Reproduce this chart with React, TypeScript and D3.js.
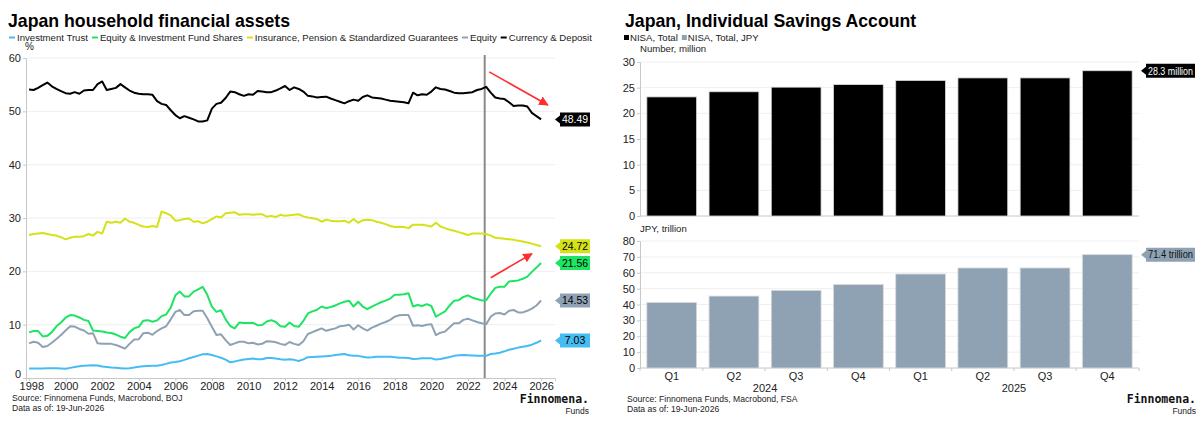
import React, { useRef, useEffect } from 'react';
import * as d3 from 'd3';

const FONT = "'Liberation Sans', Arial, sans-serif";

// Quarterly observations, 1997 Q4 .. 2025 Q4 (share of household financial assets, %)
const investmentTrust = [
  1.8, 1.8, 1.8, 1.8, 1.85, 1.85, 1.85, 1.8, 1.75, 1.9,
  2.05, 2.2, 2.3, 2.35, 2.4, 2.35, 2.15, 2.05, 1.95, 1.9,
  1.85, 1.8, 1.85, 1.95, 2.1, 2.2, 2.25, 2.3, 2.3, 2.45,
  2.65, 2.9, 3.0, 3.15, 3.4, 3.7, 3.95, 4.2, 4.45, 4.5,
  4.3, 4.05, 3.8, 3.45, 2.95, 3.1, 3.3, 3.45, 3.55, 3.65,
  3.5, 3.5, 3.75, 3.75, 3.65, 3.5, 3.4, 3.5, 3.4, 3.2,
  3.5, 3.9, 3.95, 4.0, 4.05, 4.1, 4.15, 4.3, 4.4, 4.5,
  4.25, 4.15, 4.15, 4.0, 3.85, 3.9, 4.0, 4.0, 4.0, 4.0,
  3.9, 3.8, 3.8, 3.75, 3.55, 3.6, 3.7, 3.7, 3.7, 3.45,
  3.55, 3.75, 3.95, 4.15, 4.25, 4.3, 4.25, 4.2, 4.15, 4.15,
  4.15, 4.5, 4.6, 4.75, 5.0, 5.3, 5.5, 5.7, 5.85, 6.0,
  6.25, 6.6, 7.03
];

const equityFundShares = [
  8.55, 8.8, 8.8, 7.8, 7.9, 8.6, 9.7, 10.4, 11.3, 11.8,
  11.7, 11.35, 10.9, 10.7, 8.9, 8.8, 8.7, 8.55, 8.45, 8.15,
  7.75, 7.5, 8.6, 9.3, 9.6, 10.75, 10.85, 10.55, 10.8, 11.6,
  11.9, 13.2, 15.5, 16.2, 15.3, 15.3, 16.2, 16.6, 17.1, 15.6,
  13.4, 12.4, 12.7, 11.0, 9.75, 9.3, 10.4, 10.3, 10.3, 10.35,
  9.9, 9.95, 10.6, 10.85, 10.5, 9.7, 9.6, 10.4, 9.75, 9.6,
  10.7, 12.1, 12.5, 12.8, 13.4, 13.1, 13.3, 13.6, 14.0, 14.3,
  14.5, 13.4, 14.3, 13.4, 12.9, 13.4, 13.8, 14.2, 14.5, 14.9,
  15.6, 15.6, 15.7, 15.9, 13.4, 13.7, 13.5, 13.85, 13.5, 11.5,
  12.0, 12.5, 13.6, 14.5, 14.6, 15.2, 15.5, 15.05, 14.8, 14.55,
  14.6, 15.8, 16.9, 17.1, 17.1, 18.1, 18.2, 18.3, 18.6, 19.0,
  19.9, 20.7, 21.56
];

const insurancePension = [
  26.8, 27.0, 27.1, 27.2, 27.0, 26.8, 26.7, 26.4, 26.0, 26.3,
  26.5, 26.5, 26.6, 27.0, 26.7, 27.4, 27.1, 29.3, 29.1, 29.3,
  29.1, 29.9, 29.3, 29.1, 28.7, 28.4, 28.3, 28.5, 28.3, 31.2,
  30.9, 30.5, 29.5, 29.6, 29.8, 29.9, 29.3, 29.4, 29.0, 29.3,
  29.8, 30.3, 30.1, 30.9, 31.0, 31.1, 30.6, 30.7, 30.7, 30.6,
  30.7, 30.7, 30.25, 30.4, 30.2, 30.6, 30.4, 30.5, 30.6, 30.7,
  30.3, 30.1, 29.95, 29.8, 29.3, 29.7, 29.5, 29.4, 29.4, 29.5,
  29.1, 29.8, 29.1, 29.6, 29.65, 29.6, 29.3, 29.1, 28.85, 28.5,
  28.3, 28.35, 28.3, 28.1, 28.75, 28.75, 28.75, 28.6, 28.4, 29.1,
  28.4, 28.1, 27.8, 27.6, 27.35, 27.1, 26.8, 27.1, 27.1, 27.1,
  27.0, 26.7, 26.3, 26.2, 26.1, 26.0, 25.9, 25.75, 25.6, 25.4,
  25.2, 24.95, 24.72
];

const equity = [
  6.5, 6.8, 6.6, 5.8, 6.0, 6.6, 7.3, 8.05, 8.9, 9.7,
  9.65, 9.2, 8.9, 8.3, 8.4, 6.5, 6.4, 6.4, 6.4, 6.2,
  5.85, 5.5, 6.4, 7.2, 7.25, 8.4, 8.5, 8.1, 8.8, 9.3,
  9.7, 11.0, 12.4, 12.75, 11.8, 11.8, 12.5, 12.6, 12.6, 11.2,
  9.6, 8.05, 8.2, 7.1, 6.2, 6.5, 6.8, 6.8, 6.5, 6.6,
  6.3, 6.4, 6.9, 6.85, 6.7, 6.4, 6.2, 6.75, 6.4, 6.2,
  6.9, 8.25, 8.6, 8.95, 9.3, 8.85, 9.1, 9.3, 9.7, 9.8,
  10.0, 9.1, 9.9, 9.3, 8.9, 9.45, 9.8, 10.2, 10.5, 10.9,
  11.5, 11.75, 11.8, 11.8, 9.8, 9.9, 9.75, 10.0, 10.1, 8.05,
  8.5, 8.7, 9.5, 10.25, 10.25, 10.9, 11.1, 10.8, 10.5, 10.25,
  10.1, 11.5, 12.1, 12.2, 11.9, 12.6, 12.75, 12.3, 12.3, 12.6,
  13.0, 13.6, 14.53
];

const currencyDeposit = [
  54.1, 54.0, 54.4, 54.9, 55.4, 54.7, 54.2, 53.8, 53.4, 53.3,
  53.6, 53.3, 53.9, 54.0, 54.0, 55.1, 55.6, 54.0, 54.2, 54.4,
  55.1, 54.5, 53.9, 53.5, 53.3, 53.2, 53.2, 53.1, 51.9, 51.4,
  51.2, 50.2, 49.3, 48.7, 49.1, 48.8, 48.5, 48.1, 48.1, 48.3,
  50.5, 51.4, 51.6, 52.5, 53.7, 53.6, 53.2, 52.9, 53.2, 53.1,
  53.8, 53.7, 53.6, 53.6, 53.9, 54.3, 54.75, 54.0, 54.5, 54.2,
  53.7, 52.9, 52.8, 52.6, 52.7, 52.75, 52.4, 52.1, 51.8, 51.5,
  51.9, 52.2, 52.0, 52.7, 53.0, 52.6, 52.5, 52.4, 52.2, 52.0,
  51.9, 51.8, 51.7, 51.5, 53.5, 53.0, 53.2, 53.1, 53.7, 54.5,
  54.2, 54.1, 53.8, 53.5, 53.4, 53.4, 53.5, 53.6, 54.0, 54.2,
  54.6, 53.5, 52.6, 52.4, 52.3, 51.7, 51.0, 51.1, 51.1, 50.9,
  49.7, 49.1, 48.49
];

const yTicksLeft = [0, 10, 20, 30, 40, 50, 60];

// NISA
const nisaQuarters = ['Q1', 'Q2', 'Q3', 'Q4', 'Q1', 'Q2', 'Q3', 'Q4'];
const nisaYears = ['2024', '2024', '2024', '2024', '2025', '2025', '2025', '2025'];
const nisaAccounts = [23.2, 24.2, 25.1, 25.6, 26.4, 26.9, 26.9, 28.3];
const nisaAmount = [41.3, 45.3, 48.9, 52.6, 59.2, 63.0, 63.0, 71.4];
const yTicksAccounts = [0, 5, 10, 15, 20, 25, 30];
const yTicksAmount = [0, 10, 20, 30, 40, 50, 60, 70, 80];

const App = () => {
  const ref = useRef(null);

  useEffect(() => {
    const node = ref.current;
    if (!node) return;
    d3.select(node).selectAll('*').remove();

    const svg = d3.select(node)
      .attr('width', 1200)
      .attr('height', 422)
      .style('font-family', FONT);

    svg.append('rect').attr('width', 1200).attr('height', 422).attr('fill', '#fff');

    // arrow head for annotations
    svg.append('defs').append('marker')
      .attr('id', 'redArrow')
      .attr('viewBox', '0 0 10 10')
      .attr('refX', 9).attr('refY', 5)
      .attr('markerWidth', 6).attr('markerHeight', 6)
      .attr('orient', 'auto')
      .append('path')
      .attr('d', 'M0,0 L10,5 L0,10 z')
      .attr('fill', '#ff2d2d');

    const drawTag = (g, x, y, w, label, fill, color, fs) => {
      const h = 14;
      g.append('path')
        .attr('d', `M${x - 5},${y} L${x},${y - 4} L${x},${y - h / 2} L${x + w},${y - h / 2} L${x + w},${y + h / 2} L${x},${y + h / 2} L${x},${y + 4} Z`)
        .attr('fill', fill);
      const t = g.append('text')
        .attr('x', x + w / 2)
        .attr('y', y + 3.8)
        .attr('text-anchor', 'middle')
        .attr('font-size', fs)
        .attr('fill', color)
        .text(label);
      if (t.node().getComputedTextLength() > w - 4) {
        t.attr('textLength', w - 4).attr('lengthAdjust', 'spacingAndGlyphs');
      }
    };

    // ================= LEFT CHART =================
    const left = svg.append('g');

    left.append('text')
      .attr('x', 8).attr('y', 27)
      .attr('font-size', 17.7).attr('font-weight', 'bold')
      .attr('fill', '#000')
      .text('Japan household financial assets');

    const series = [
      { name: 'Investment Trust', values: investmentTrust, color: '#45bcf2', text: '#000' },
      { name: 'Equity & Investment Fund Shares', values: equityFundShares, color: '#1ee463', text: '#000' },
      { name: 'Insurance, Pension & Standardized Guarantees', values: insurancePension, color: '#d5e21a', text: '#000' },
      { name: 'Equity', values: equity, color: '#8fa2b4', text: '#000' },
      { name: 'Currency & Deposit', values: currencyDeposit, color: '#000', text: '#fff' }
    ];

    // legend laid out from measured widths
    let lx = 9;
    series.forEach((s) => {
      left.append('line')
        .attr('x1', lx).attr('x2', lx + 6)
        .attr('y1', 37.5).attr('y2', 37.5)
        .attr('stroke', s.color).attr('stroke-width', 2);
      const t = left.append('text')
        .attr('x', lx + 8).attr('y', 41)
        .attr('font-size', 9.6)
        .attr('fill', '#222')
        .text(s.name);
      lx += 8 + t.node().getComputedTextLength() + 4;
    });

    left.append('text')
      .attr('x', 25).attr('y', 50)
      .attr('font-size', 10)
      .attr('fill', '#222')
      .text('%');

    const dates = investmentTrust.map((_, i) => new Date(1998, 3 * i, 0));

    const x = d3.scaleTime()
      .domain([new Date(1997, 9, 31), new Date(2026, 9, 5)])
      .range([26, 555]);
    const y = d3.scaleLinear().domain([0, 60]).range([378, 58]);

    // gridlines
    left.append('g')
      .selectAll('line')
      .data(yTicksLeft.filter(d => d > 0))
      .join('line')
      .attr('x1', 27).attr('x2', 555)
      .attr('y1', d => y(d)).attr('y2', d => y(d))
      .attr('stroke', '#efefef').attr('stroke-width', 1);

    // y axis
    const yAxis = left.append('g')
      .attr('transform', 'translate(26,0)')
      .call(d3.axisLeft(y).tickValues(yTicksLeft).tickSize(3).tickPadding(2));
    yAxis.select('.domain').attr('stroke', '#c8c8c8');
    yAxis.selectAll('.tick line').attr('stroke', '#c8c8c8');
    yAxis.selectAll('.tick text')
      .attr('font-size', 11).attr('font-family', FONT).attr('fill', '#222');
    // lift the zero label clear of the first year label
    yAxis.selectAll('.tick text').filter(d => d === 0).attr('dy', '-0.05em');

    // x axis
    const xTicks = d3.range(1998, 2027, 2).map(yr => new Date(yr, 0, 1));
    const xAxis = left.append('g')
      .attr('transform', 'translate(0,378)')
      .call(d3.axisBottom(x).tickValues(xTicks).tickFormat(d3.timeFormat('%Y')).tickSize(3).tickPadding(1.5));
    xAxis.select('.domain').attr('stroke', '#c8c8c8');
    xAxis.selectAll('.tick line').attr('stroke', '#c8c8c8');
    xAxis.selectAll('.tick text')
      .attr('font-size', 11).attr('font-family', FONT).attr('fill', '#222');
    xAxis.selectAll('.tick text').filter((d, i) => i === 0).attr('dx', '0.2em');

    // vertical marker
    const markDate = new Date(2022, 11, 1);
    left.append('line')
      .attr('x1', x(markDate)).attr('x2', x(markDate))
      .attr('y1', 55).attr('y2', 378)
      .attr('stroke', '#8a8a8a').attr('stroke-width', 2);

    const line = d3.line()
      .x((_, i) => x(dates[i]))
      .y(d => y(d));

    series.forEach((s) => {
      left.append('path')
        .datum(s.values)
        .attr('fill', 'none')
        .attr('stroke', s.color)
        .attr('stroke-width', 2)
        .attr('stroke-linejoin', 'round')
        .attr('d', line);
    });

    // red trend arrows
    const arrows = [
      { from: [new Date(2023, 2, 1), 57.4], to: [new Date(2026, 4, 15), 51.2] },
      { from: [new Date(2023, 3, 1), 18.8], to: [new Date(2025, 6, 1), 23.3] }
    ];
    arrows.forEach((a) => {
      left.append('line')
        .attr('x1', x(a.from[0])).attr('y1', y(a.from[1]))
        .attr('x2', x(a.to[0])).attr('y2', y(a.to[1]))
        .attr('stroke', '#ff2d2d').attr('stroke-width', 1.6)
        .attr('marker-end', 'url(#redArrow)');
    });

    // end-value tags
    series.forEach((s) => {
      const v = s.values[s.values.length - 1];
      drawTag(left, 560, y(v), 30, v.toFixed(2), s.color, s.text, 10.5);
    });

    left.append('text').attr('x', 12).attr('y', 401)
      .attr('font-size', 8.6).attr('fill', '#222')
      .text('Source: Finnomena Funds, Macrobond, BOJ');
    left.append('text').attr('x', 12).attr('y', 411)
      .attr('font-size', 8.6).attr('fill', '#222')
      .text('Data as of: 19-Jun-2026');

    const drawLogo = (g, xr, yb) => {
      g.append('text').attr('x', xr).attr('y', yb)
        .attr('text-anchor', 'end')
        .attr('font-family', "'DejaVu Sans Mono', monospace")
        .attr('font-size', 11.5).attr('font-weight', 'bold')
        .attr('fill', '#111')
        .text('Finnomena.');
      g.append('text').attr('x', xr).attr('y', yb + 11)
        .attr('text-anchor', 'end')
        .attr('font-size', 8.5).attr('fill', '#222')
        .text('Funds');
    };
    drawLogo(left, 589, 403);

    // ================= RIGHT CHART =================
    const right = svg.append('g');

    right.append('text')
      .attr('x', 625).attr('y', 27)
      .attr('font-size', 17.7).attr('font-weight', 'bold')
      .attr('fill', '#000')
      .text('Japan, Individual Savings Account');

    let rx = 624;
    [{ name: 'NISA, Total', color: '#000' }, { name: 'NISA, Total, JPY', color: '#8fa2b4' }].forEach((s) => {
      right.append('rect')
        .attr('x', rx).attr('y', 35).attr('width', 5).attr('height', 5)
        .attr('fill', s.color);
      const t = right.append('text')
        .attr('x', rx + 6).attr('y', 41)
        .attr('font-size', 9.6).attr('fill', '#222')
        .text(s.name);
      rx += 6 + t.node().getComputedTextLength() + 4;
    });

    const band = d3.scaleBand()
      .domain(d3.range(nisaQuarters.length))
      .range([640, 1139])
      .paddingInner(0.2)
      .paddingOuter(0.11);

    const drawPanel = (values, ticks, yRange, maxV, fill, unit, unitY, tagLabel) => {
      const g = right.append('g');
      const ys = d3.scaleLinear().domain([0, maxV]).range(yRange);

      g.append('text')
        .attr('x', 640).attr('y', unitY)
        .attr('font-size', 9.6).attr('fill', '#222')
        .text(unit);

      g.append('g')
        .selectAll('line')
        .data(ticks.filter(d => d > 0))
        .join('line')
        .attr('x1', 641).attr('x2', 1139)
        .attr('y1', d => ys(d)).attr('y2', d => ys(d))
        .attr('stroke', '#efefef');

      const ax = g.append('g')
        .attr('transform', 'translate(640,0)')
        .call(d3.axisLeft(ys).tickValues(ticks).tickSize(3).tickPadding(2));
      ax.select('.domain').attr('stroke', '#c8c8c8');
      ax.selectAll('.tick line').attr('stroke', '#c8c8c8');
      ax.selectAll('.tick text').attr('font-size', 11).attr('font-family', FONT).attr('fill', '#222');

      g.append('line')
        .attr('x1', 640).attr('x2', 1139)
        .attr('y1', ys(0)).attr('y2', ys(0))
        .attr('stroke', '#c8c8c8');

      g.append('g')
        .selectAll('rect')
        .data(values)
        .join('rect')
        .attr('x', (_, i) => band(i))
        .attr('width', band.bandwidth())
        .attr('y', d => ys(d))
        .attr('height', d => ys(0) - ys(d))
        .attr('fill', fill)
        .attr('stroke', '#d9d9d9')
        .attr('stroke-width', 0.8);

      const last = values[values.length - 1];
      drawTag(g, 1146, ys(last), 49, tagLabel(last), fill, fill === '#000' ? '#fff' : '#111', 10);
      return { g, ys };
    };

    drawPanel(nisaAccounts, yTicksAccounts, [216, 62], 30, '#000', 'Number, million', 52,
      v => `${v.toFixed(1)} million`);
    const bottom = drawPanel(nisaAmount, yTicksAmount, [368, 241], 80, '#8fa2b4', 'JPY, trillion', 232,
      v => `${v.toFixed(1)} trillion`);

    // category axis: small ticks between bars, quarter and year labels
    const catG = right.append('g');
    const gapX = d3.range(nisaQuarters.length + 1).map(i => (i === 0
      ? 640
      : i === nisaQuarters.length
        ? 1139
        : band(i) - (band.step() - band.bandwidth()) / 2));
    catG.selectAll('line')
      .data(gapX)
      .join('line')
      .attr('x1', d => d).attr('x2', d => d)
      .attr('y1', bottom.ys(0)).attr('y2', bottom.ys(0) + 3)
      .attr('stroke', '#c8c8c8');
    catG.selectAll('text.q')
      .data(nisaQuarters)
      .join('text')
      .attr('x', (_, i) => band(i) + band.bandwidth() / 2)
      .attr('y', 380)
      .attr('text-anchor', 'middle')
      .attr('font-size', 11).attr('fill', '#222')
      .text(d => d);
    const years = Array.from(new Set(nisaYears));
    years.forEach((yr) => {
      const idx = nisaYears.map((v, i) => (v === yr ? i : -1)).filter(i => i >= 0);
      const x0 = band(idx[0]);
      const x1 = band(idx[idx.length - 1]) + band.bandwidth();
      catG.append('text')
        .attr('x', (x0 + x1) / 2).attr('y', 392)
        .attr('text-anchor', 'middle')
        .attr('font-size', 11).attr('fill', '#222')
        .text(yr);
    });

    right.append('text').attr('x', 627).attr('y', 402)
      .attr('font-size', 8.6).attr('fill', '#222')
      .text('Source: Finnomena Funds, Macrobond, FSA');
    right.append('text').attr('x', 627).attr('y', 412)
      .attr('font-size', 8.6).attr('fill', '#222')
      .text('Data as of: 19-Jun-2026');

    drawLogo(right, 1196, 403);
  }, []);

  return (
    <div style={{ position: 'absolute', left: 0, top: 0, width: 1200, height: 422 }}>
      <svg ref={ref} />
    </div>
  );
};

export default App;
